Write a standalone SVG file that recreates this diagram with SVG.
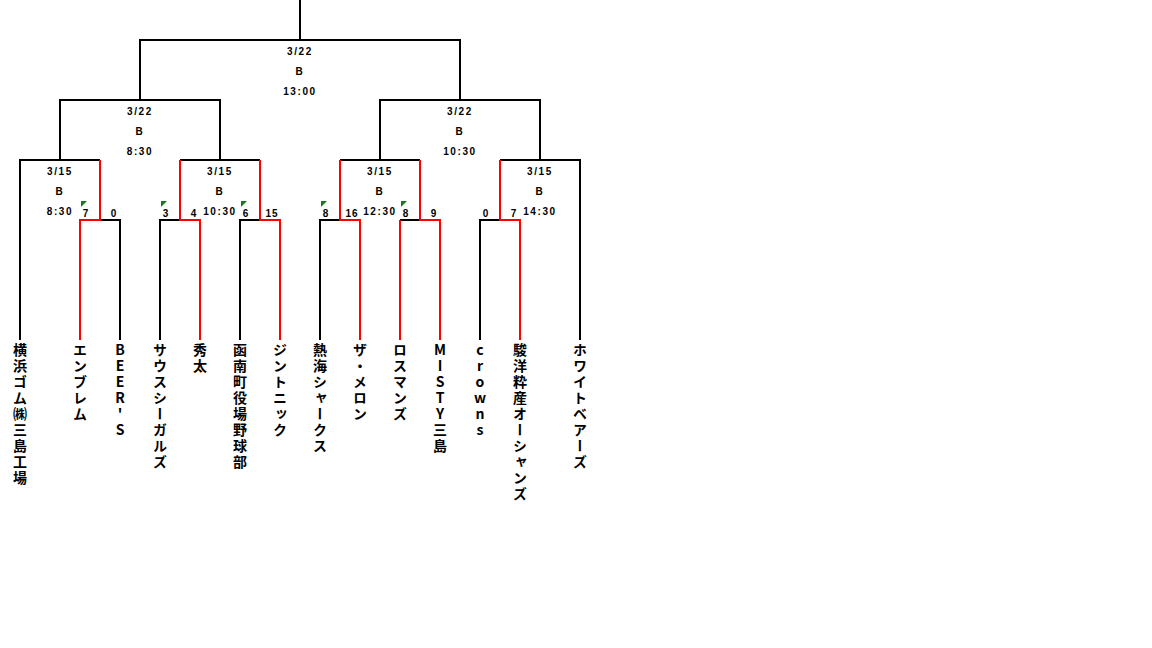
<svg xmlns="http://www.w3.org/2000/svg" width="1152" height="648" viewBox="0 0 1152 648">
<style>
.k{fill:none;stroke:#000;stroke-width:2}
.r{fill:none;stroke:#ff0000;stroke-width:2}
.lb{font-family:"Liberation Sans",Arial,sans-serif;font-weight:bold;font-size:10px;letter-spacing:1.6px;text-anchor:middle;fill:#000}
.sc{font-family:"Liberation Sans",Arial,sans-serif;font-weight:bold;font-size:10px;letter-spacing:1px;text-anchor:middle;fill:#000}
.tm{font-family:"Noto Sans CJK JP","Noto Sans CJK SC",sans-serif;font-weight:bold;font-size:14px;letter-spacing:2px;writing-mode:vertical-rl;text-orientation:upright;fill:#000}
.tri{fill:#1a7a1a}
</style>
<rect width="1152" height="648" fill="#fff"/>
<g id="connectors">
<path class="k" d="M300,0V40M140,100V40H460V100M60,160V100H220V160M380,160V100H540V160"/>
<path class="k" d="M20,340V160H100M100,220H120V340"/>
<path class="r" d="M100,160V220H80V340"/>
<path class="k" d="M180,160H260M160,340V220H180M240,340V220H260"/>
<path class="r" d="M180,160V220H200V340M260,160V220H280V340"/>
<path class="k" d="M340,160H420M320,340V220H340M400,220H420"/>
<path class="r" d="M340,160V220H360V340M420,160V220H440V340M400,220V340"/>
<path class="k" d="M500,160H580V340M480,340V220H500"/>
<path class="r" d="M500,160V220H520V340"/>
</g>
<g id="match-final"><text class="lb" x="300" y="55">3/22</text><text class="lb" x="300" y="75">B</text><text class="lb" x="300" y="95">13:00</text></g>
<g id="match-semi-left"><text class="lb" x="140" y="115">3/22</text><text class="lb" x="140" y="135">B</text><text class="lb" x="140" y="155">8:30</text></g>
<g id="match-semi-right"><text class="lb" x="460" y="115">3/22</text><text class="lb" x="460" y="135">B</text><text class="lb" x="460" y="155">10:30</text></g>
<g id="match-r1-1"><text class="lb" x="60" y="175">3/15</text><text class="lb" x="60" y="195">B</text><text class="lb" x="60" y="215">8:30</text>
<polygon class="tri" points="81,201 87,201 81,207"/><text class="sc" x="86" y="217">7</text><text class="sc" x="114" y="217">0</text></g>
<g id="match-r1-2"><text class="lb" x="220" y="175">3/15</text><text class="lb" x="220" y="195">B</text><text class="lb" x="220" y="215">10:30</text>
<polygon class="tri" points="161,201 167,201 161,207"/><text class="sc" x="166" y="217">3</text><text class="sc" x="194" y="217">4</text>
<polygon class="tri" points="241,201 247,201 241,207"/><text class="sc" x="246" y="217">6</text><text class="sc" x="272" y="217">15</text></g>
<g id="match-r1-3"><text class="lb" x="380" y="175">3/15</text><text class="lb" x="380" y="195">B</text><text class="lb" x="380" y="215">12:30</text>
<polygon class="tri" points="321,201 327,201 321,207"/><text class="sc" x="326" y="217">8</text><text class="sc" x="352" y="217">16</text>
<polygon class="tri" points="401,201 407,201 401,207"/><text class="sc" x="406" y="217">8</text><text class="sc" x="434" y="217">9</text></g>
<g id="match-r1-4"><text class="lb" x="540" y="175">3/15</text><text class="lb" x="540" y="195">B</text><text class="lb" x="540" y="215">14:30</text>
<text class="sc" x="486" y="217">0</text><text class="sc" x="514" y="217">7</text></g>
<g id="team-1"><text class="tm" x="20" y="343">横浜ゴム㈱三島工場</text></g>
<g id="team-2"><text class="tm" x="80" y="343">エンブレム</text></g>
<g id="team-3"><text class="tm" x="120" y="343">BEER'S</text></g>
<g id="team-4"><text class="tm" x="160" y="343">サウスシーガルズ</text></g>
<g id="team-5"><text class="tm" x="200" y="343">秀太</text></g>
<g id="team-6"><text class="tm" x="240" y="343">函南町役場野球部</text></g>
<g id="team-7"><text class="tm" x="280" y="343">ジントニック</text></g>
<g id="team-8"><text class="tm" x="320" y="343">熱海シャークス</text></g>
<g id="team-9"><text class="tm" x="360" y="343">ザ・メロン</text></g>
<g id="team-10"><text class="tm" x="400" y="343">ロスマンズ</text></g>
<g id="team-11"><text class="tm" x="440" y="343">MISTY三島</text></g>
<g id="team-12"><text class="tm" x="480" y="343">crowns</text></g>
<g id="team-13"><text class="tm" x="520" y="343">駿洋粋産オーシャンズ</text></g>
<g id="team-14"><text class="tm" x="580" y="343">ホワイトベアーズ</text></g>
</svg>
